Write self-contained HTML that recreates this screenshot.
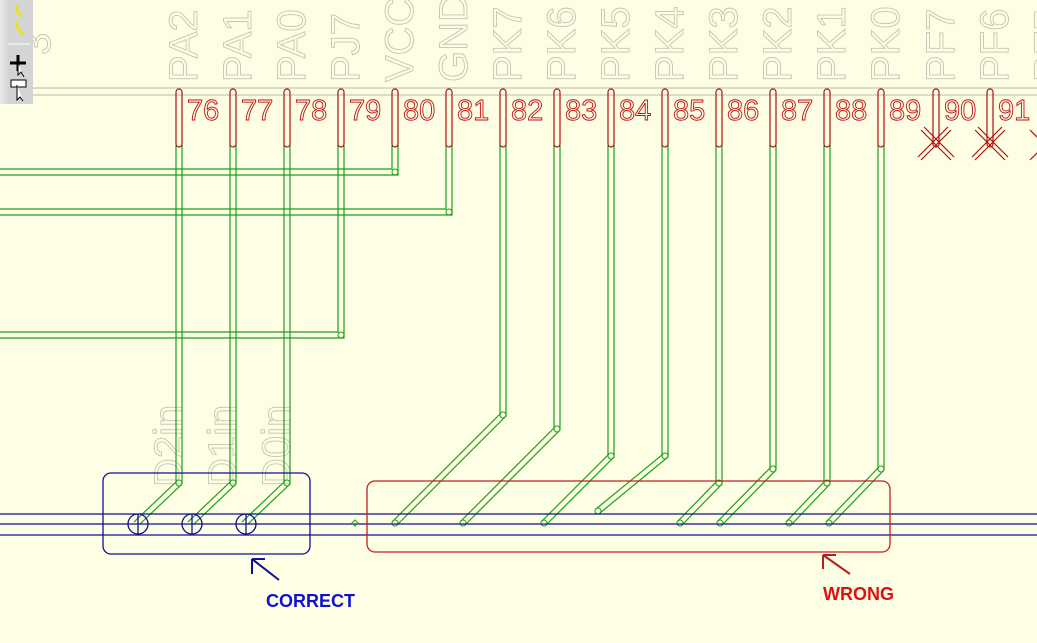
<!DOCTYPE html>
<html><head><meta charset="utf-8"><style>
html,body{margin:0;padding:0;background:#fefee4;width:1037px;height:643px;overflow:hidden}
svg{display:block}
.num{font-family:"Liberation Sans",sans-serif;font-size:29px;fill:none;stroke:#c01010;stroke-width:0.9}
.gl{font-family:"Liberation Sans",sans-serif;font-size:40px;fill:none;stroke:#c4c4b8;stroke-width:0.9}
</style></head><body>
<svg width="1037" height="643" viewBox="0 0 1037 643" xmlns="http://www.w3.org/2000/svg">
<rect width="1037" height="643" fill="#fefee4"/>
<line x1="0" y1="88" x2="1037" y2="88" stroke="#b8b8b0" stroke-width="1"/>
<line x1="0" y1="95" x2="1037" y2="95" stroke="#b8b8b0" stroke-width="1"/>
<g class="gl">
<text transform="translate(197,82) rotate(-90)">PA2</text>
<text transform="translate(251,82) rotate(-90)">PA1</text>
<text transform="translate(305,82) rotate(-90)">PA0</text>
<text transform="translate(359,82) rotate(-90)">PJ7</text>
<text transform="translate(413,82) rotate(-90)">VCC</text>
<text transform="translate(467,82) rotate(-90)">GND</text>
<text transform="translate(521,82) rotate(-90)">PK7</text>
<text transform="translate(575,82) rotate(-90)">PK6</text>
<text transform="translate(629,82) rotate(-90)">PK5</text>
<text transform="translate(683,82) rotate(-90)">PK4</text>
<text transform="translate(737,82) rotate(-90)">PK3</text>
<text transform="translate(791,82) rotate(-90)">PK2</text>
<text transform="translate(845,82) rotate(-90)">PK1</text>
<text transform="translate(899,82) rotate(-90)">PK0</text>
<text transform="translate(954,82) rotate(-90)">PF7</text>
<text transform="translate(1008,82) rotate(-90)">PF6</text>
<text transform="translate(1062,82) rotate(-90)">PF5</text>
<text transform="translate(50,55) rotate(-90)">3</text>
<text transform="translate(182,487) rotate(-90)">D2in</text>
<text transform="translate(236,487) rotate(-90)">D1in</text>
<text transform="translate(290,487) rotate(-90)">D0in</text>
</g>
<!-- green traces as double outlines -->
<g fill="none" stroke="#1aa01a" stroke-width="1.2">
<path d="M176 145V482L134 522M182 145V484L140 524"/>
<path d="M230 145V482L188 522M236 145V484L194 524"/>
<path d="M284 145V482L242 522M290 145V484L248 524"/>
<path d="M338 145V332H-5M344 145V338H-5"/>
<path d="M392 145V169H-5M398 145V175H-5"/>
<path d="M446 145V209H-5M452 145V215H-5"/>
<path d="M500 145V414L392 522M506 145V416L398 524"/>
<path d="M554 145V428L460 522M560 145V430L466 524"/>
<path d="M608 145V455L541 522M614 145V457L547 524"/>
<path d="M662 145V455L596 509M668 145V457L600 513"/>
<path d="M716 145V482L677 522M722 145V484L683 524"/>
<path d="M770 145V468L717 522M776 145V470L723 524"/>
<path d="M824 145V482L786 522M830 145V484L792 524"/>
<path d="M878 145V468L826 522M884 145V470L832 524"/>
</g>
<g fill="none" stroke="#1aa01a" stroke-width="1">
<circle cx="179" cy="483" r="3"/><circle cx="233" cy="483" r="3"/><circle cx="287" cy="483" r="3"/>
<circle cx="503" cy="415" r="3"/><circle cx="557" cy="429" r="3"/><circle cx="611" cy="456" r="3"/>
<circle cx="665" cy="456" r="3"/><circle cx="719" cy="483" r="3"/><circle cx="773" cy="469" r="3"/>
<circle cx="827" cy="483" r="3"/><circle cx="881" cy="469" r="3"/>
<circle cx="395" cy="523" r="3"/><circle cx="463" cy="523" r="3"/><circle cx="544" cy="523" r="3"/>
<circle cx="598" cy="511" r="3"/><circle cx="680" cy="523" r="3"/><circle cx="720" cy="523" r="3"/>
<circle cx="789" cy="523" r="3"/><circle cx="829" cy="523" r="3"/>
<circle cx="341" cy="335" r="3"/><circle cx="395" cy="172" r="3"/><circle cx="449" cy="212" r="3"/>
</g>
<!-- red pins -->
<g fill="none" stroke="#b01010" stroke-width="1.2">
<rect x="176" y="89" width="6" height="58" rx="3"/><rect x="230" y="89" width="6" height="58" rx="3"/>
<rect x="284" y="89" width="6" height="58" rx="3"/><rect x="338" y="89" width="6" height="58" rx="3"/>
<rect x="392" y="89" width="6" height="58" rx="3"/><rect x="446" y="89" width="6" height="58" rx="3"/>
<rect x="500" y="89" width="6" height="58" rx="3"/><rect x="554" y="89" width="6" height="58" rx="3"/>
<rect x="608" y="89" width="6" height="58" rx="3"/><rect x="662" y="89" width="6" height="58" rx="3"/>
<rect x="716" y="89" width="6" height="58" rx="3"/><rect x="770" y="89" width="6" height="58" rx="3"/>
<rect x="824" y="89" width="6" height="58" rx="3"/><rect x="878" y="89" width="6" height="58" rx="3"/>
<rect x="933" y="89" width="6" height="58" rx="3"/><rect x="987" y="89" width="6" height="58" rx="3"/>
</g>
<g stroke="#b01010" stroke-width="1.2" fill="none">
<path d="M921 130L951 160M951 130L921 160M924 127L954 157M948 127L918 157"/>
<path d="M975 130L1005 160M1005 130L975 160M978 127L1008 157M1002 127L972 157"/>
<path d="M1030 130L1045 145M1030 160L1045 145"/>
</g>
<g class="num">
<text x="187" y="120">76</text><text x="241" y="120">77</text><text x="295" y="120">78</text><text x="349" y="120">79</text>
<text x="403" y="120">80</text><text x="457" y="120">81</text><text x="511" y="120">82</text><text x="565" y="120">83</text>
<text x="619" y="120">84</text><text x="673" y="120">85</text><text x="727" y="120">86</text><text x="781" y="120">87</text>
<text x="835" y="120">88</text><text x="889" y="120">89</text><text x="944" y="120">90</text><text x="998" y="120">91</text>
</g>
<g stroke="#101090" stroke-width="1.3">
<line x1="0" y1="514" x2="1037" y2="514"/>
<line x1="0" y1="524" x2="1037" y2="524"/>
<line x1="0" y1="535" x2="1037" y2="535"/>
</g>
<g stroke="#101090" stroke-width="1.3" fill="none">
<circle cx="138" cy="524" r="10"/><circle cx="192" cy="524" r="10"/><circle cx="246" cy="524" r="10"/>
<line x1="138" y1="514" x2="138" y2="534"/><line x1="192" y1="514" x2="192" y2="534"/><line x1="246" y1="514" x2="246" y2="534"/>
<rect x="103" y="473" width="207" height="81" rx="8"/>
</g>
<path d="M355 520L358 523L355 526L352 523Z" fill="none" stroke="#1aa01a"/>
<rect x="367" y="481" width="523" height="71" rx="8" fill="none" stroke="#c02020" stroke-width="1.3"/>
<g stroke="#101090" stroke-width="2" fill="none"><path d="M252 559L279 580M252 559V574M252 559H265"/></g>
<g stroke="#b02020" stroke-width="2" fill="none"><path d="M823 555L850 574M823 555V569M823 555H836"/></g>
<text x="266" y="607" font-family="Liberation Sans,sans-serif" font-weight="bold" font-size="18" fill="#1010d0">CORRECT</text>
<text x="823" y="600" font-family="Liberation Sans,sans-serif" font-weight="bold" font-size="18" fill="#e01010">WRONG</text>
<defs><linearGradient id="tb" x1="0" x2="1"><stop offset="0" stop-color="#e8e8e8"/><stop offset="1" stop-color="#a0a0a0"/></linearGradient></defs>
<rect x="0" y="0" width="33" height="104" fill="url(#tb)"/>
<rect x="8" y="0" width="25" height="104" fill="#d4d4d4"/>
<path d="M18 5Q14 12 22 16M18 22Q14 28 24 34" stroke="#e8e030" stroke-width="3" fill="none"/>
<line x1="8" y1="44" x2="30" y2="44" stroke="#fff"/>
<path d="M10 63H26M18 55V71" stroke="#000" stroke-width="3"/>
<path d="M18 63L18 75L21 72L24 77" stroke="#000" fill="#fff"/>
<rect x="11" y="80" width="15" height="7" fill="#fff" stroke="#000"/>
<path d="M17 85V100L20 97L23 101" stroke="#000" fill="#fff"/>
</svg>
</body></html>
